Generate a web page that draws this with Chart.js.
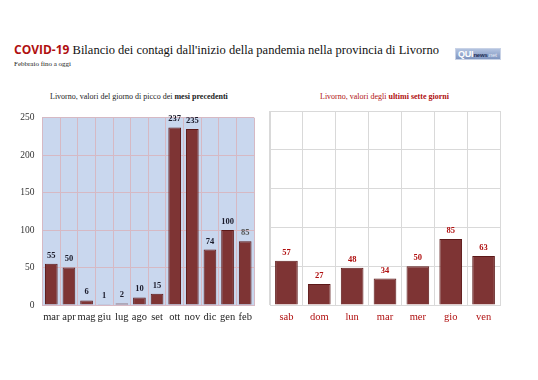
<!DOCTYPE html>
<html>
<head>
<meta charset="utf-8">
<script src="https://cdn.jsdelivr.net/npm/chart.js@4"></script>
<style>
    body { margin: 0; width: 538px; height: 380px; background: #fff; position: relative; overflow: hidden; }
    #title { position: absolute; left: 14px; top: 41px; font: 12.5px "Liberation Serif", serif; color: #111; white-space: nowrap; }
    #title b { font-family: "Open Sans", sans-serif; color: #b01010; font-size: 12px; }
    #subtitle { position: absolute; left: 14px; top: 60px; font: 7px "Liberation Serif", serif; color: #222; }
    #logo { position: absolute; left: 455px; top: 48px; width: 46px; height: 12px; overflow: hidden; background: linear-gradient(#b3c3e0, #7f95c0); border: 1px solid #c8d2e6; box-sizing: border-box; font: bold 9px "Liberation Sans", sans-serif; line-height: 10px; padding-left: 2px; white-space: nowrap; letter-spacing: -0.2px; }
    #logo span.q { color: #fff; }
    #logo span.n { color: #1d2d55; font-size: 6px; }
    #logo span.t { color: #e4eaf5; font-size: 6px; font-weight: normal; }
    .cap { position: absolute; top: 92px; font: 8px "Liberation Serif", serif; white-space: nowrap; }
    #capL { left: 50px; color: #222; }
    #capR { left: 320px; color: #b01010; }
    .box { position: absolute; top: 104px; height: 222px; }
    #boxL { left: 0; width: 262px; }
    #boxR { left: 262px; width: 270px; }
</style>
</head>
<body>
<div id="title"><b>COVID-19</b> Bilancio dei contagi dall'inizio della pandemia nella provincia di Livorno</div>
<div id="subtitle">Febbraio fino a oggi</div>
<div id="logo"><span class="q">QUI</span><span class="n">news</span><span class="t">.net</span></div>
<div class="cap" id="capL">Livorno, valori del giorno di picco dei <b>mesi precedenti</b></div>
<div class="cap" id="capR">Livorno, valori degli <b>ultimi sette giorni</b></div>
<div class="box" id="boxL"><canvas id="monthsChart"></canvas></div>
<div class="box" id="boxR"><canvas id="daysChart"></canvas></div>
<script>
var months = ['mar', 'apr', 'mag', 'giu', 'lug', 'ago', 'set', 'ott', 'nov', 'dic', 'gen', 'feb'];
var monthPeaks = [55, 50, 6, 1, 2, 10, 15, 237, 235, 74, 100, 85];
var days = ['sab', 'dom', 'lun', 'mar', 'mer', 'gio', 'ven'];
var dayValues = [57, 27, 48, 34, 50, 85, 63];
var yTicks = [0, 50, 100, 150, 200, 250];

var barFill = '#7e3434';
var barEdge = '#5c1818';
var serif = '"Liberation Serif", "DejaVu Serif", serif';

// draws plot background and value labels above bars
var barExtras = {
    id: 'barExtras',
    beforeDraw: function (chart, args, opts) {
        if (!opts.bg) return;
        var a = chart.chartArea, ctx = chart.ctx;
        ctx.save();
        ctx.fillStyle = opts.bg;
        ctx.fillRect(a.left, a.top, a.right - a.left, a.bottom - a.top);
        ctx.restore();
    },
    afterDatasetsDraw: function (chart, args, opts) {
        var ctx = chart.ctx;
        var meta = chart.getDatasetMeta(0);
        var data = chart.data.datasets[0].data;
        ctx.save();
        ctx.font = 'bold 8.5px ' + serif;
        ctx.textAlign = 'center';
        ctx.textBaseline = 'bottom';
        meta.data.forEach(function (bar, i) {
            ctx.fillStyle = (opts.colors && opts.colors[i]) || opts.color;
            ctx.fillText(data[i], bar.x, bar.y - 4);
        });
        ctx.restore();
    }
};

function makeChart(id, labels, values, cfg) {
    return new Chart(document.getElementById(id), {
        type: 'bar',
        data: {
            labels: labels,
            datasets: [{
                data: values,
                backgroundColor: barFill,
                borderColor: barEdge,
                borderWidth: 1,
                barPercentage: cfg.barPct,
                categoryPercentage: 1
            }]
        },
        options: {
            responsive: true,
            maintainAspectRatio: false,
            animation: false,
            layout: { padding: cfg.padding },
            plugins: {
                legend: { display: false },
                tooltip: { enabled: false },
                barExtras: cfg.extras
            },
            scales: {
                x: {
                    grid: { color: cfg.gridColor, offset: true, drawTicks: false },
                    border: { color: cfg.gridColor },
                    ticks: { color: cfg.xColor, font: { family: serif, size: 10.5 }, padding: 6, maxRotation: 0, autoSkip: false },
                    afterFit: function (s) { s.height = 21; }
                },
                y: {
                    min: 0,
                    max: 250,
                    display: true,
                    grid: { color: cfg.gridColor, drawTicks: false },
                    border: { color: cfg.gridColor },
                    afterBuildTicks: function (s) { s.ticks = yTicks.map(function (v) { return { value: v }; }); },
                    ticks: { display: cfg.showY, color: '#333', font: { family: serif, size: 9.5 }, padding: 8 },
                    afterFit: function (s) { s.width = cfg.yWidth; }
                }
            }
        },
        plugins: [barExtras]
    });
}

makeChart('monthsChart', months, monthPeaks, {
    barPct: 0.72,
    padding: { left: 0, right: 8, top: 7, bottom: 0 },
    gridColor: '#d6b9c4',
    xColor: '#222',
    showY: true,
    yWidth: 42.5,
    extras: { bg: '#c9d7ee', color: '#1a1a2a', colors: [null, null, null, null, null, null, null, null, null, null, null, '#555'] }
});

makeChart('daysChart', days, dayValues, {
    barPct: 0.69,
    padding: { left: 8, right: 32, top: 7, bottom: 0 },
    gridColor: '#d9d9d9',
    xColor: '#b01010',
    showY: false,
    yWidth: 0,
    extras: { color: '#b01010' }
});
</script>
</body>
</html>
